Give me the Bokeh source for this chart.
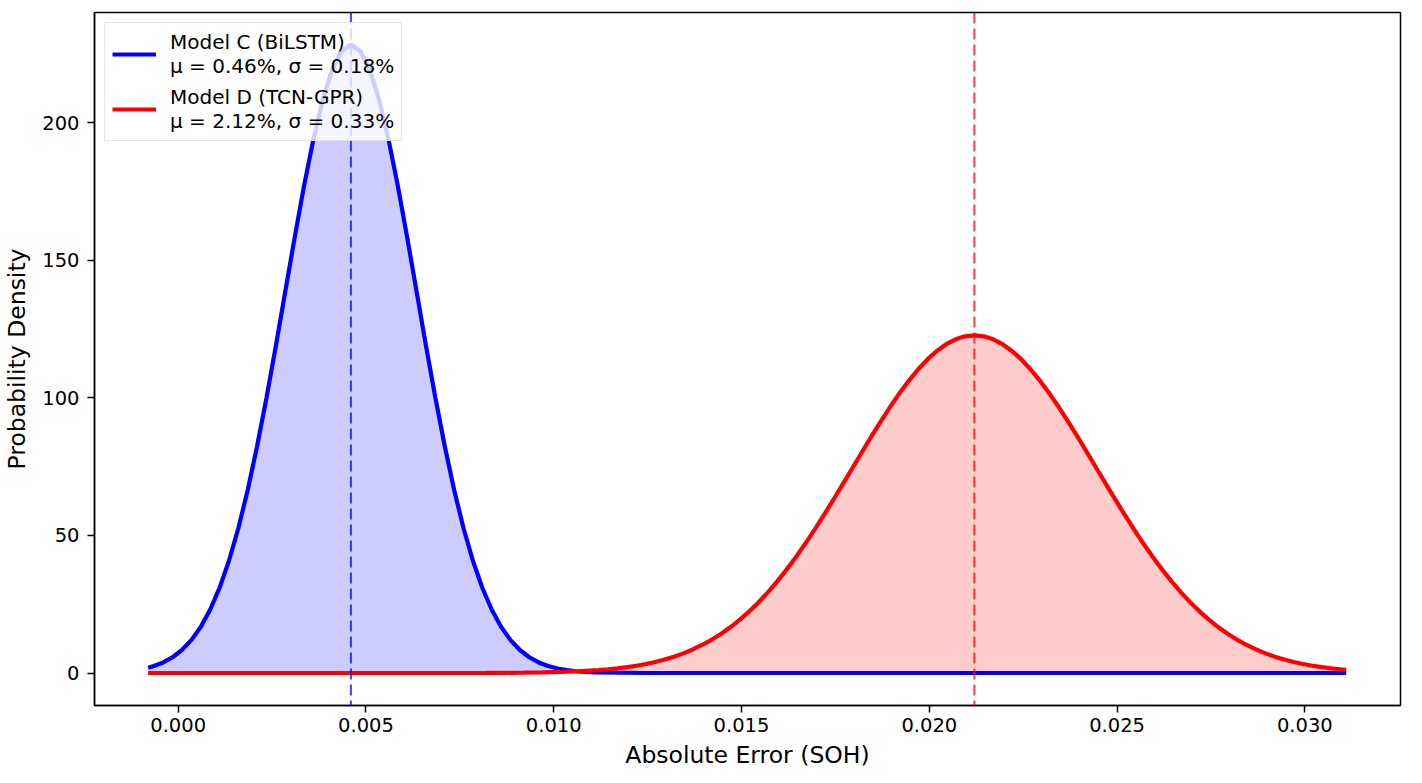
from bokeh.plotting import figure
from bokeh.models import (Range1d, Span, Legend, LegendItem, FixedTicker,
                          NumeralTickFormatter)
from bokeh.embed import file_html
from bokeh.resources import INLINE

# ---- data ----
model_c_x = [-0.0008, -0.00065, -0.0004, -0.00015, 0.0001, 0.00035, 0.0006, 0.00085,
             0.0011, 0.00135, 0.0016, 0.00185, 0.0021, 0.00235, 0.0026, 0.00285,
             0.0031, 0.00335, 0.0036, 0.00385, 0.0041, 0.00435, 0.0046, 0.00485,
             0.0051, 0.00535, 0.0056, 0.00585, 0.0061, 0.00635, 0.0066, 0.00685,
             0.0071, 0.00735, 0.0076, 0.00785, 0.0081, 0.00835, 0.0086, 0.00885,
             0.0091, 0.00935, 0.0096, 0.00985, 0.0101, 0.01035, 0.0106, 0.01085,
             0.0111, 0.0125, 0.015, 0.0175, 0.02, 0.0225, 0.025, 0.0275, 0.03, 0.0311]
model_c_density = [1.95, 2.54, 3.85, 5.74, 8.37, 11.96, 16.75, 23.0,
                   30.9, 40.7, 52.5, 66.4, 82.3, 99.9, 118.8, 138.5,
                   158.1, 176.9, 193.9, 208.3, 219.2, 226.0, 228.3, 226.0,
                   219.2, 208.3, 193.9, 176.9, 158.1, 138.5, 118.8, 99.9,
                   82.3, 66.4, 52.5, 40.7, 30.9, 23.0, 16.75, 11.96,
                   8.37, 5.74, 3.85, 2.54, 1.63, 1.03, 0.64, 0.39,
                   0.23, 0.01, 0.0, 0.0, 0.0, 0.0, 0.0, 0.0, 0.0, 0.0]

model_d_x = [-0.0008, 0.002, 0.004, 0.006,
             0.0082, 0.0087, 0.0092, 0.0097, 0.0102, 0.0107, 0.0112,
             0.01145, 0.0117, 0.01195, 0.0122, 0.01245, 0.0127, 0.01295, 0.0132,
             0.01345, 0.0137, 0.01395, 0.0142, 0.01445, 0.0147, 0.01495, 0.0152,
             0.01545, 0.0157, 0.01595, 0.0162, 0.01645, 0.0167, 0.01695, 0.0172,
             0.01745, 0.0177, 0.01795, 0.0182, 0.01845, 0.0187, 0.01895, 0.0192,
             0.01945, 0.0197, 0.01995, 0.0202, 0.02045, 0.0207, 0.02095, 0.0212,
             0.02145, 0.0217, 0.02195, 0.0222, 0.02245, 0.0227, 0.02295, 0.0232,
             0.02345, 0.0237, 0.02395, 0.0242, 0.02445, 0.0247, 0.02495, 0.0252,
             0.02545, 0.0257, 0.02595, 0.0262, 0.02645, 0.0267, 0.02695, 0.0272,
             0.02745, 0.0277, 0.02795, 0.0282, 0.02845, 0.0287, 0.02895, 0.0292,
             0.02945, 0.0297, 0.02995, 0.0302, 0.03045, 0.0307, 0.03095, 0.0311]
model_d_density = [0.0, 0.0, 0.0, 0.0,
                   0.04, 0.08, 0.13, 0.23, 0.40, 0.66, 1.08,
                   1.36, 1.71, 2.14, 2.65, 3.27, 4.01, 4.89, 5.93,
                   7.14, 8.56, 10.19, 12.06, 14.20, 16.61, 19.31, 22.32,
                   25.65, 29.31, 33.28, 37.57, 42.17, 47.04, 52.18, 57.53,
                   63.06, 68.71, 74.42, 80.14, 85.78, 91.28, 96.55, 101.53,
                   106.14, 110.30, 113.95, 117.03, 119.48, 121.26, 122.34, 122.7,
                   122.34, 121.26, 119.48, 117.03, 113.95, 110.30, 106.14, 101.53,
                   96.55, 91.28, 85.78, 80.14, 74.42, 68.71, 63.06, 57.53,
                   52.18, 47.04, 42.17, 37.57, 33.28, 29.31, 25.65, 22.32,
                   19.31, 16.61, 14.20, 12.06, 10.19, 8.56, 7.14, 5.93,
                   4.89, 4.01, 3.27, 2.65, 2.14, 1.71, 1.36, 1.19]

model_means = [0.0046, 0.0212]
model_labels = ["Model C (BiLSTM)\nμ = 0.46%, σ = 0.18%",
                "Model D (TCN-GPR)\nμ = 2.12%, σ = 0.33%"]
model_colors = ["blue", "red"]

x_ticks = [0.0, 0.005, 0.010, 0.015, 0.020, 0.025, 0.030]
y_ticks = [0, 50, 100, 150, 200]

FONT = "DejaVu Sans"
TICK_SIZE = "19.5px"
LEGEND_SIZE = "20px"
LABEL_SIZE = "23.5px"

p = figure(width=1406, height=774, output_backend="svg", toolbar_location=None,
           x_range=Range1d(-0.002228, 0.032546), y_range=Range1d(-11.8, 240.0),
           min_border_left=92, min_border_top=12, min_border_right=6,
           min_border_bottom=69)

p.background_fill_color = "white"
p.border_fill_color = "white"
p.outline_line_color = "black"
p.outline_line_width = 1.5
p.xgrid.visible = False
p.ygrid.visible = False

# fills
p.varea(x=model_c_x, y1=[0] * len(model_c_x), y2=model_c_density,
        fill_color=model_colors[0], fill_alpha=0.2)
p.varea(x=model_d_x, y1=[0] * len(model_d_x), y2=model_d_density,
        fill_color=model_colors[1], fill_alpha=0.2)

# curves
line_c = p.line(model_c_x, model_c_density, line_color=model_colors[0], line_width=4.2)
line_d = p.line(model_d_x, model_d_density, line_color=model_colors[1], line_width=4.2)

# mean lines
for m, c in zip(model_means, model_colors):
    p.add_layout(Span(location=m, dimension="height", line_color=c,
                      line_alpha=0.7, line_width=2.2, line_dash="11 5"))

# axes
for ax in (p.xaxis[0], p.yaxis[0]):
    ax.axis_line_color = "black"
    ax.axis_line_width = 1.5
    ax.major_tick_line_color = "black"
    ax.major_tick_line_width = 1.5
    ax.major_tick_out = 7
    ax.major_tick_in = 0
    ax.minor_tick_out = 0
    ax.minor_tick_in = 0
    ax.major_label_text_font = FONT
    ax.major_label_text_font_size = TICK_SIZE
    ax.major_label_text_color = "black"
    ax.axis_label_text_font = FONT
    ax.axis_label_text_font_size = LABEL_SIZE
    ax.axis_label_text_font_style = "normal"
    ax.axis_label_text_color = "black"

p.xaxis[0].ticker = FixedTicker(ticks=x_ticks)
p.xaxis[0].formatter = NumeralTickFormatter(format="0.000")
p.xaxis[0].axis_label = "Absolute Error (SOH)"
p.xaxis[0].major_label_standoff = 5
p.xaxis[0].axis_label_standoff = 6

p.yaxis[0].ticker = FixedTicker(ticks=y_ticks)
p.yaxis[0].axis_label = "Probability Density"
p.yaxis[0].major_label_standoff = 8
p.yaxis[0].axis_label_standoff = 8

legend = Legend(items=[LegendItem(label=model_labels[0], renderers=[line_c]),
                       LegendItem(label=model_labels[1], renderers=[line_d])],
                location="top_left", margin=10, padding=7, spacing=7,
                glyph_width=44, glyph_height=24, label_standoff=14,
                label_text_font=FONT, label_text_font_size=LEGEND_SIZE,
                label_text_color="black", label_text_line_height=1.1,
                border_line_color="#cccccc", border_line_width=1.2,
                background_fill_color="white", background_fill_alpha=0.8)
p.add_layout(legend)

open("out.html", "w").write(file_html(p, INLINE))
